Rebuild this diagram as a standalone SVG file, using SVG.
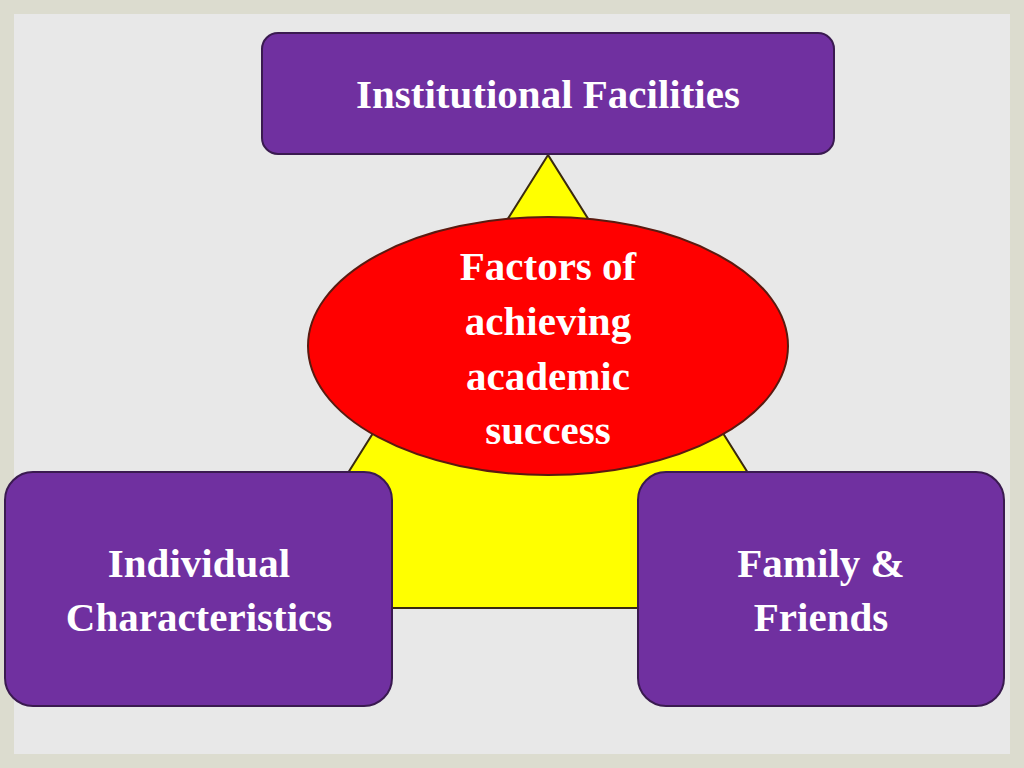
<svg xmlns="http://www.w3.org/2000/svg" width="1024" height="768" viewBox="0 0 1024 768">
<style>
.box{fill:#7030a0;stroke:#3a1a50;stroke-width:2}
.t{font-family:"Liberation Serif","DejaVu Serif",serif;font-weight:bold;font-size:41px;fill:#fff;text-anchor:middle}
</style>
<rect width="1024" height="768" fill="#dcdccf"/>
<rect x="14" y="14" width="996" height="740" fill="#e8e8e8"/>
<g id="connectors">
<polygon points="548,155 263,608 833,608" fill="#ffff00" stroke="#3a2a10" stroke-width="2"/>
</g>
<g id="center">
<ellipse cx="548" cy="346" rx="240" ry="129" fill="#ff0000" stroke="#5a1a10" stroke-width="2"/>
<text class="t" x="548" y="280">Factors of</text>
<text class="t" x="548" y="335">achieving</text>
<text class="t" x="548" y="390">academic</text>
<text class="t" x="548" y="444">success</text>
</g>
<g id="top">
<rect class="box" x="262" y="33" width="572" height="121" rx="16"/>
<text class="t" x="548" y="108">Institutional Facilities</text>
</g>
<g id="left">
<rect class="box" x="5" y="472" width="387" height="234" rx="28"/>
<text class="t" x="199" y="577">Individual</text>
<text class="t" x="199" y="631">Characteristics</text>
</g>
<g id="right">
<rect class="box" x="638" y="472" width="366" height="234" rx="28"/>
<text class="t" x="821" y="577">Family &amp;</text>
<text class="t" x="821" y="631">Friends</text>
</g>
</svg>
